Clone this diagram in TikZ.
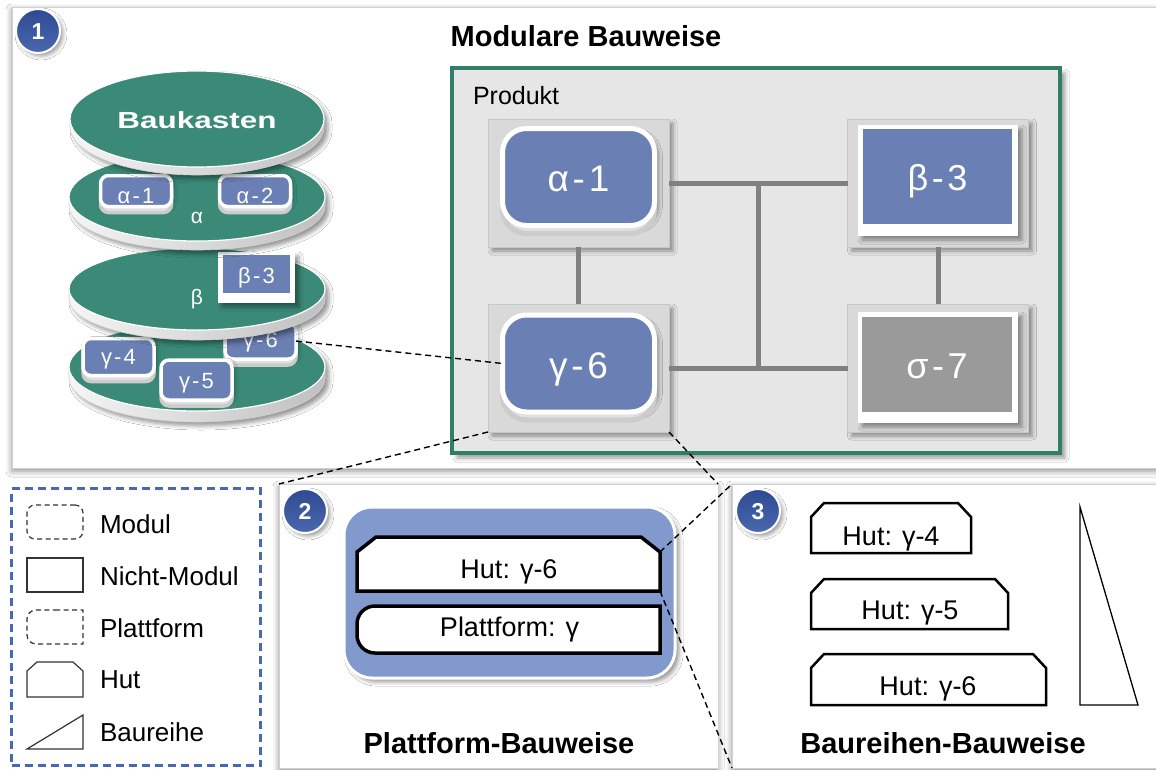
\documentclass[tikz,border=0pt]{standalone}
\usepackage{fontspec}
\setmainfont{Liberation Sans}
\usetikzlibrary{calc,shadows,shadows.blur}

\definecolor{discgreen}{HTML}{3A8A77}
\definecolor{framegreen}{HTML}{2F7E69}
\definecolor{tileblue}{HTML}{6A7FB4}
\definecolor{panelblue}{HTML}{8299CD}
\definecolor{badgetop}{HTML}{2E4A92}
\definecolor{badgebot}{HTML}{4B67AE}
\definecolor{cellgray}{HTML}{D9D9D9}
\definecolor{prodgray}{HTML}{E6E6E6}
\definecolor{linkgray}{HTML}{808080}
\definecolor{legendblue}{HTML}{4868B2}
\definecolor{photogray}{HTML}{9A9A9A}

\newcommand\setfs[1]{\fontsize{#1}{#1}\selectfont}
% loosely spaced hyphen used in the module names
\newcommand\hy{\kern0.1em-\kern0.1em}

% one disc of the Baukasten stack: centre x, centre y, x radius, y radius, thickness
\newcommand\stackdisc[5]{%
  \path[left color=black!4, middle color=white, right color=black!25, draw=black!18, line width=0.6pt,
        blur shadow={shadow xshift=4pt, shadow yshift=-4pt, shadow blur radius=4pt, shadow opacity=40}]
    (#1-#3,#2) arc[start angle=180, end angle=0, x radius=#3pt, y radius=#4pt]
    -- (#1+#3,#2+#5) arc[start angle=0, end angle=-180, x radius=#3pt, y radius=#4pt] -- cycle;
  \fill[discgreen, draw=white, line width=1.2pt] (#1,#2) ellipse[x radius=#3pt, y radius=#4pt];
}

% chamfered "Hut" outline around a rectangular node: node, chamfer x, chamfer y, style
\newcommand\hutframe[4]{%
  \draw[#4] (#1.south west) -- ([yshift=-#3]#1.north west) -- ([xshift=#2]#1.north west)
    -- ([xshift=-#2]#1.north east) -- ([yshift=-#3]#1.north east) -- (#1.south east) -- cycle;}

% platform outline: square top, rounded bottom: node, radius, style
\newcommand\platframe[3]{%
  \draw[#3] (#1.north) -- (#1.north east) -- (#1.south east) [rounded corners=#2]
    -- (#1.south west) -- (#1.north west) [sharp corners] -- cycle;}

\begin{document}
\begin{tikzpicture}[x=1pt, y=-1pt,
  every node/.style={inner sep=0pt, outer sep=0pt},
  softshadow/.style={blur shadow={shadow xshift=#1, shadow yshift=-#1,
      shadow blur radius=4pt, shadow opacity=40}},
  softshadow/.default=3pt,
  panelbox/.style={draw=black!18, line width=0.8pt, fill=white,
      blur shadow={shadow xshift=0pt, shadow yshift=-3pt, shadow blur radius=6pt, shadow opacity=45}},
  badge/.style={circle, minimum size=44pt, top color=badgetop, bottom color=badgebot,
      draw=white, line width=2pt, text=white, font=\setfs{23}\bfseries,
      text height=16.5pt, text depth=0pt, softshadow=3pt},
  cellbox/.style={fill=cellgray, draw=black!22, line width=0.8pt,
      minimum width=181pt, minimum height=128pt, softshadow=4pt},
  modtile/.style={rounded corners=24pt, fill=tileblue, draw=white, line width=5pt,
      minimum width=152pt, minimum height=97pt, text=white, font=\setfs{37},
      text depth=0pt, softshadow=4pt,
      general shadow={shadow xshift=0pt, shadow yshift=-8pt, fill=white!88!black,
        draw=white!80!black, line width=5pt}},
  stile/.style={rounded corners=8pt, fill=tileblue, draw=white, line width=3.5pt,
      minimum width=71pt, text=white, font=\setfs{22}, text depth=0pt, softshadow=2pt,
      general shadow={shadow xshift=0pt, shadow yshift=-6pt, fill=white!88!black,
        draw=white!80!black, line width=3.5pt}},
  photoframe/.style={fill=white, softshadow=4pt},
  photocard/.style={text=white, font=\setfs{36}, text height=27pt, text depth=0pt},
  cellink/.style={draw=linkgray, line width=5pt},
  zoomline/.style={draw=black, line width=1.4pt, dash pattern=on 6pt off 4pt},
  legline/.style={draw=black!80, line width=1.2pt},
  legdash/.style={legline, dash pattern=on 5pt off 3.5pt},
  hutline/.style={draw=black, line width=#1, fill=white},
  lbl/.style={anchor=base, text=black, font=\setfs{27}},
  leglbl/.style={anchor=base west, text=black, font=\setfs{26}},
  headline/.style={anchor=base, text=black, font=\setfs{29}\bfseries},
]
\useasboundingbox (0,0) rectangle (1156,769);
\fill[white] (0,0) rectangle (1156,769);

% ---------- panel 1: modular construction ----------
\node[panelbox, minimum width=1153pt, minimum height=461pt] (p1) at (588.5,237.5) {};
\node[badge] (n1) at (38,31) {1};
\node[headline] (t1) at (586,46) {Modulare Bauweise};

% Baukasten stack, lowest disc first
\stackdisc{197}{367}{128}{44}{11}
\node[stile, minimum height=37pt, text height=14pt] (sg4) at (118.5,357) {γ\hy4};
\node[stile, minimum height=36pt, text height=12pt] (sg6) at (260.5,341) {γ\hy6};
\node[stile, minimum height=40pt, text height=17pt] (sg5) at (196.5,380) {γ\hy5};
\stackdisc{197}{289}{128}{41}{10}
\node[photoframe, minimum width=77pt, minimum height=51pt] (sb3f) at (256.5,277.5) {};
\node[fill=tileblue, minimum width=67pt, minimum height=38pt, text=white, font=\setfs{22},
      text height=18pt, text depth=0pt] (sb3) at (256.5,274) {β\hy3};
\node[anchor=base, text=white, font=\setfs{21}] (lb) at (197,304) {β};
\stackdisc{197}{197}{128}{44}{9}
\node[stile, minimum height=31pt, text height=24pt] (sa1) at (136,191) {α\hy1};
\node[stile, minimum height=31pt, text height=24pt] (sa2) at (255,191) {α\hy2};
\node[anchor=base, text=white, font=\setfs{21}] (la) at (197,223) {α};
\stackdisc{197}{119}{127}{48}{8}
\node[text=white, font=\setfs{23.3}\bfseries, text height=16.6pt, text depth=0pt] (bk)
      at (197,120) {\scalebox{1.35}[1]{Baukasten}};

% product with its modules
\node[fill=prodgray, draw=framegreen, line width=4.5pt, minimum width=608pt,
      minimum height=385pt, softshadow=5pt] (pr) at (756,260.5) {};
\node[anchor=base west, font=\setfs{25}] (pl) at (473,104) {Produkt};
\node[cellbox] (c1) at (578.5,183) {};
\node[cellbox] (c3) at (938,183) {};
\node[cellbox] (c6) at (578.5,368) {};
\node[cellbox] (c7) at (938,368) {};
\coordinate (jt) at ($(c1.east)!0.5!(c3.west)$);
\coordinate (jb) at ($(c6.east)!0.5!(c7.west)$);
\draw[cellink] (c1.east) -- (c3.west);
\draw[cellink] (c6.east) -- (c7.west);
\draw[cellink] (jt) -- (jb);
\draw[cellink] (c1.south) -- (c6.north);
\draw[cellink] (c3.south) -- (c7.north);
\node[modtile, text height=28pt] (m1) at (578.5,177) {α\hy1};
\node[modtile, text height=29pt] (m6) at (578.5,363.5) {γ\hy6};
\node[photoframe, minimum width=160pt, minimum height=111pt] (b3f) at (938,180.5) {};
\node[photocard, fill=tileblue, minimum width=149pt, minimum height=95pt] (b3) at (937.5,176.5) {β\hy3};
\node[photoframe, minimum width=160pt, minimum height=111pt] (s7f) at (938,367.5) {};
\node[photocard, fill=photogray, minimum width=150pt, minimum height=95pt] (s7) at (937,364.5) {σ\hy7};

% ---------- lower panels ----------
\node[panelbox, minimum width=439pt, minimum height=284pt] (p2) at (498.5,626) {};
\node[panelbox, minimum width=433pt, minimum height=284pt] (p3) at (948.5,626) {};

% legend
\node[fill=white, draw=legendblue, line width=3.5pt, dash pattern=on 8pt off 5pt,
      minimum width=249pt, minimum height=277pt] (lg) at (136,627) {};
\node[legdash, rounded corners=8pt, minimum width=56pt, minimum height=34pt] (lm) at (55,522) {};
\node[legline, minimum width=56pt, minimum height=34pt] (ln) at (55,575) {};
\node[minimum width=56pt, minimum height=34pt] (lp) at (55,627) {};
\platframe{lp}{9pt}{legdash}
\node[minimum width=56pt, minimum height=35pt] (lh) at (55,679.5) {};
\hutframe{lh}{10pt}{9pt}{legline}
\draw[legline] (27,749) -- (83,749) -- (83,715) -- cycle;
\node[leglbl] (tm) at (100,533) {Modul};
\node[leglbl] (tn) at (100,585) {Nicht-Modul};
\node[leglbl] (tp) at (100,637) {Plattform};
\node[leglbl] (th) at (100,688) {Hut};
\node[leglbl] (tb) at (100,741) {Baureihe};

% panel 2: platform construction
\node[badge] (n2) at (305,511) {2};
\node[fill=panelblue, draw=white, line width=3pt, rounded corners=28pt, minimum width=331pt,
      minimum height=171pt, softshadow=4pt] (pb) at (509.5,592.5) {};
\node[minimum width=303pt, minimum height=54pt] (h2) at (508.5,564) {};
\hutframe{h2}{19pt}{15pt}{hutline=3.5pt}
\node[lbl] (h2t) at (509,578) {Hut: γ-6};
\node[minimum width=303pt, minimum height=47pt] (pf) at (508.5,629.5) {};
\platframe{pf}{18pt}{hutline=3.5pt}
\node[lbl] (pft) at (509.5,636) {Plattform: γ};
\node[headline] (t2) at (499,753) {Plattform-Bauweise};

% panel 3: series construction
\node[badge] (n3) at (758,511) {3};
\node[minimum width=160pt, minimum height=50pt] (h4) at (891,528) {};
\hutframe{h4}{13pt}{14pt}{hutline=2.5pt}
\node[lbl] (h4t) at (891,545) {Hut: γ-4};
\node[minimum width=197pt, minimum height=50pt] (h5) at (909.5,604) {};
\hutframe{h5}{13pt}{14pt}{hutline=2.5pt}
\node[lbl] (h5t) at (910,619) {Hut: γ-5};
\node[minimum width=235pt, minimum height=51pt] (h6) at (928.5,679.5) {};
\hutframe{h6}{13pt}{14pt}{hutline=2.5pt}
\node[lbl] (h6t) at (928,695) {Hut: γ-6};
\draw[draw=black, line width=1.3pt] (1080,507) -- (1080,705) -- (1138,705) -- cycle;
\node[headline] (t3) at (943,753) {Baureihen-Bauweise};

% ---------- zoom connectors ----------
\draw[zoomline] (sg6.east) -- (m6.west);
\draw[zoomline] (c6.south west) -- (p2.north west);
\draw[zoomline] (c6.south east) -- (p2.north east);
\coordinate (h2c) at ([yshift=-15pt]h2.north east);
\draw[zoomline] (h2c) -- (p3.north west);
\draw[zoomline] (h2.south east) -- (p3.south west);
\end{tikzpicture}
\end{document}
